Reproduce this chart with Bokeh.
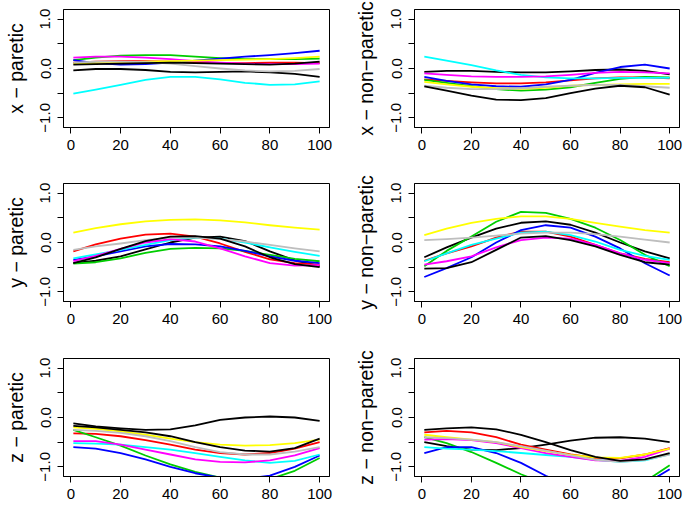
from bokeh.plotting import figure
from bokeh.layouts import column, row
from bokeh.models import Range1d, FixedTicker
from bokeh.embed import file_html
from bokeh.resources import INLINE

# ---------------- data ----------------
T = [1, 10, 20, 30, 40, 50, 60, 70, 80, 90, 100]
X_TICKS = [0, 20, 40, 60, 80, 100]
Y_TICKS = [-1.0, -0.5, 0.0, 0.5, 1.0]
Y_TICK_LABELS = ["\u22121.0", "", "0.0", "", "1.0"]

COLORS = {
    "black1": "#000000", "red": "#FF0000", "green": "#00CD00", "blue": "#0000FF",
    "cyan": "#00FFFF", "magenta": "#FF00FF", "yellow": "#FFFF00", "gray": "#BEBEBE",
    "black2": "#000000",
}

# x - paretic
xp_black1 = [-0.04, -0.01, -0.01, -0.03, -0.07, -0.08, -0.07, -0.06, -0.08, -0.11, -0.17]
xp_red = [0.12, 0.14, 0.15, 0.15, 0.14, 0.12, 0.11, 0.11, 0.12, 0.12, 0.11]
xp_green = [0.17, 0.22, 0.26, 0.27, 0.27, 0.24, 0.21, 0.19, 0.19, 0.19, 0.20]
xp_blue = [0.17, 0.11, 0.08, 0.09, 0.12, 0.16, 0.20, 0.24, 0.27, 0.31, 0.36]
xp_cyan = [-0.51, -0.43, -0.33, -0.23, -0.17, -0.17, -0.22, -0.29, -0.33, -0.32, -0.26]
xp_magenta = [0.22, 0.24, 0.24, 0.22, 0.19, 0.15, 0.12, 0.10, 0.09, 0.09, 0.10]
xp_yellow = [0.10, 0.11, 0.12, 0.14, 0.15, 0.16, 0.17, 0.18, 0.19, 0.21, 0.24]
xp_gray = [0.12, 0.14, 0.14, 0.13, 0.10, 0.05, 0.00, -0.04, -0.06, -0.05, -0.01]
xp_black2 = [0.08, 0.09, 0.10, 0.11, 0.12, 0.11, 0.10, 0.09, 0.08, 0.10, 0.14]

# x - non-paretic
xn_black1 = [-0.07, -0.05, -0.05, -0.07, -0.08, -0.08, -0.06, -0.03, -0.02, -0.05, -0.12]
xn_red = [-0.22, -0.25, -0.28, -0.30, -0.30, -0.28, -0.24, -0.20, -0.18, -0.18, -0.20]
xn_green = [-0.23, -0.29, -0.36, -0.42, -0.45, -0.43, -0.38, -0.29, -0.21, -0.17, -0.18]
xn_blue = [-0.17, -0.25, -0.32, -0.36, -0.37, -0.32, -0.23, -0.09, 0.03, 0.08, 0.00]
xn_cyan = [0.24, 0.16, 0.07, -0.04, -0.13, -0.18, -0.20, -0.20, -0.19, -0.19, -0.19]
xn_magenta = [-0.10, -0.13, -0.16, -0.17, -0.17, -0.16, -0.13, -0.09, -0.07, -0.08, -0.10]
xn_yellow = [-0.27, -0.32, -0.37, -0.40, -0.41, -0.39, -0.35, -0.33, -0.32, -0.31, -0.31]
xn_gray = [-0.35, -0.39, -0.42, -0.42, -0.40, -0.37, -0.35, -0.33, -0.33, -0.36, -0.39]
xn_black2 = [-0.36, -0.45, -0.55, -0.63, -0.64, -0.60, -0.50, -0.41, -0.35, -0.38, -0.53]

# y - paretic
yp_black1 = [-0.42, -0.37, -0.28, -0.14, 0.00, 0.10, 0.12, 0.03, -0.18, -0.36, -0.48]
yp_red = [-0.18, -0.04, 0.08, 0.16, 0.18, 0.12, -0.02, -0.19, -0.34, -0.42, -0.45]
yp_green = [-0.43, -0.40, -0.32, -0.21, -0.13, -0.11, -0.12, -0.17, -0.25, -0.33, -0.38]
yp_blue = [-0.35, -0.28, -0.18, -0.08, -0.03, -0.04, -0.08, -0.17, -0.28, -0.37, -0.42]
yp_cyan = [-0.32, -0.24, -0.15, -0.05, 0.05, 0.10, 0.08, 0.00, -0.10, -0.19, -0.27]
yp_magenta = [-0.38, -0.27, -0.13, 0.00, 0.07, 0.02, -0.12, -0.28, -0.42, -0.47, -0.46]
yp_yellow = [0.20, 0.29, 0.37, 0.43, 0.46, 0.47, 0.45, 0.41, 0.35, 0.30, 0.26]
yp_gray = [-0.15, -0.08, -0.02, 0.05, 0.10, 0.10, 0.07, 0.02, -0.05, -0.12, -0.18]
yp_black2 = [-0.42, -0.30, -0.13, 0.03, 0.12, 0.13, 0.08, -0.08, -0.30, -0.44, -0.50]

# y - non-paretic
yn_black1 = [-0.30, -0.10, 0.10, 0.28, 0.40, 0.43, 0.36, 0.20, 0.00, -0.18, -0.32]
yn_red = [-0.37, -0.22, -0.08, 0.10, 0.22, 0.22, 0.12, -0.05, -0.22, -0.33, -0.40]
yn_green = [-0.48, -0.17, 0.12, 0.42, 0.62, 0.60, 0.48, 0.30, 0.05, -0.25, -0.48]
yn_blue = [-0.70, -0.52, -0.30, 0.00, 0.25, 0.35, 0.30, 0.12, -0.12, -0.42, -0.67]
yn_cyan = [-0.38, -0.22, -0.05, 0.08, 0.20, 0.22, 0.15, 0.02, -0.15, -0.27, -0.35]
yn_magenta = [-0.45, -0.38, -0.28, -0.10, 0.05, 0.10, 0.08, -0.05, -0.22, -0.35, -0.42]
yn_yellow = [0.15, 0.28, 0.40, 0.48, 0.53, 0.53, 0.48, 0.40, 0.32, 0.25, 0.20]
yn_gray = [0.05, 0.07, 0.10, 0.14, 0.18, 0.20, 0.20, 0.17, 0.12, 0.06, 0.00]
yn_black2 = [-0.53, -0.52, -0.40, -0.15, 0.10, 0.13, 0.05, -0.08, -0.25, -0.40, -0.45]

# z - paretic
zp_black1 = [-0.12, -0.18, -0.22, -0.25, -0.24, -0.16, -0.05, 0.00, 0.02, 0.00, -0.07]
zp_red = [-0.32, -0.33, -0.38, -0.46, -0.55, -0.65, -0.72, -0.75, -0.72, -0.63, -0.50]
zp_green = [-0.25, -0.40, -0.57, -0.77, -0.95, -1.10, -1.22, -1.28, -1.25, -1.08, -0.82]
zp_blue = [-0.60, -0.63, -0.72, -0.85, -1.00, -1.13, -1.22, -1.24, -1.18, -1.00, -0.77]
zp_cyan = [-0.52, -0.53, -0.55, -0.60, -0.65, -0.72, -0.80, -0.87, -0.92, -0.88, -0.75]
zp_magenta = [-0.48, -0.48, -0.55, -0.65, -0.75, -0.85, -0.90, -0.91, -0.87, -0.77, -0.62]
zp_yellow = [-0.20, -0.23, -0.28, -0.35, -0.43, -0.50, -0.55, -0.57, -0.56, -0.52, -0.45]
zp_gray = [-0.25, -0.27, -0.31, -0.38, -0.48, -0.60, -0.70, -0.75, -0.75, -0.69, -0.60]
zp_black2 = [-0.17, -0.20, -0.25, -0.30, -0.38, -0.50, -0.60, -0.67, -0.69, -0.62, -0.43]

# z - non-paretic
zn_black1 = [-0.50, -0.58, -0.65, -0.66, -0.62, -0.55, -0.47, -0.41, -0.40, -0.43, -0.50]
zn_red = [-0.30, -0.27, -0.30, -0.40, -0.55, -0.65, -0.75, -0.82, -0.83, -0.75, -0.62]
zn_green = [-0.40, -0.52, -0.70, -0.92, -1.15, -1.35, -1.50, -1.55, -1.50, -1.30, -0.97]
zn_blue = [-0.72, -0.60, -0.60, -0.72, -0.92, -1.18, -1.40, -1.52, -1.52, -1.35, -1.05]
zn_cyan = [-0.60, -0.63, -0.65, -0.68, -0.72, -0.76, -0.80, -0.86, -0.90, -0.87, -0.75]
zn_magenta = [-0.45, -0.44, -0.46, -0.52, -0.62, -0.72, -0.80, -0.87, -0.88, -0.80, -0.63]
zn_yellow = [-0.35, -0.40, -0.45, -0.50, -0.60, -0.68, -0.76, -0.81, -0.82, -0.75, -0.63]
zn_gray = [-0.40, -0.42, -0.45, -0.50, -0.58, -0.67, -0.77, -0.86, -0.90, -0.86, -0.75]
zn_black2 = [-0.25, -0.22, -0.20, -0.24, -0.35, -0.50, -0.66, -0.80, -0.88, -0.85, -0.72]

PANELS = [
    ("x \u2212 paretic", [xp_black1, xp_red, xp_green, xp_blue, xp_cyan, xp_magenta, xp_yellow, xp_gray, xp_black2]),
    ("x \u2212 non\u2212paretic", [xn_black1, xn_red, xn_green, xn_blue, xn_cyan, xn_magenta, xn_yellow, xn_gray, xn_black2]),
    ("y \u2212 paretic", [yp_black1, yp_red, yp_green, yp_blue, yp_cyan, yp_magenta, yp_yellow, yp_gray, yp_black2]),
    ("y \u2212 non\u2212paretic", [yn_black1, yn_red, yn_green, yn_blue, yn_cyan, yn_magenta, yn_yellow, yn_gray, yn_black2]),
    ("z \u2212 paretic", [zp_black1, zp_red, zp_green, zp_blue, zp_cyan, zp_magenta, zp_yellow, zp_gray, zp_black2]),
    ("z \u2212 non\u2212paretic", [zn_black1, zn_red, zn_green, zn_blue, zn_cyan, zn_magenta, zn_yellow, zn_gray, zn_black2]),
]
SERIES_ORDER = ["black1", "red", "green", "blue", "cyan", "magenta", "yellow", "gray", "black2"]

FONT = "Liberation Sans"
TICK_FS = "15px"
LABEL_FS = "19.5px"


def make_panel(label, series, col, rowi):
    # row geometry: (height, top border, bottom border)
    height, bt, bb = [(175, 9, 48), (175, 8, 49), (156, 8, 30)][rowi]
    if col == 0:
        width, bl, br, als = 343, 63, 14, 11
    else:
        width, bl, br, als = 341, 71, 5, 12
    p = figure(width=width, height=height,
               x_range=Range1d(-2.96, 103.96), y_range=Range1d(-1.196, 1.196),
               output_backend="svg", toolbar_location=None,
               min_border_left=bl, min_border_right=br,
               min_border_top=bt, min_border_bottom=bb)
    p.xgrid.visible = False
    p.ygrid.visible = False
    p.outline_line_color = "black"
    p.outline_line_width = 1
    p.outline_line_alpha = 1
    p.background_fill_color = "white"
    p.border_fill_color = "white"

    for name, ys in zip(SERIES_ORDER, series):
        p.line(T, ys, line_color=COLORS[name], line_width=1.8, line_join="round")

    xa = p.xaxis[0]
    xa.ticker = FixedTicker(ticks=X_TICKS)
    xa.minor_tick_line_color = None
    xa.major_tick_out = 6
    xa.major_tick_in = 0
    xa.major_label_standoff = 6
    xa.major_label_text_font = FONT
    xa.major_label_text_font_size = TICK_FS
    xa.major_label_text_color = "black"
    xa.axis_line_color = "black"
    xa.major_tick_line_color = "black"

    ya = p.yaxis[0]
    ya.ticker = FixedTicker(ticks=Y_TICKS)
    ya.major_label_overrides = {t: s for t, s in zip(Y_TICKS, Y_TICK_LABELS)}
    ya.major_label_orientation = "vertical"
    ya.minor_tick_line_color = None
    ya.major_tick_out = 6
    ya.major_tick_in = 0
    ya.major_label_standoff = 7
    ya.major_label_text_font = FONT
    ya.major_label_text_font_size = TICK_FS
    ya.major_label_text_color = "black"
    ya.axis_line_color = "black"
    ya.major_tick_line_color = "black"
    ya.axis_label = label
    ya.axis_label_text_font = FONT
    ya.axis_label_text_font_size = LABEL_FS
    ya.axis_label_text_font_style = "normal"
    ya.axis_label_text_color = "black"
    ya.axis_label_standoff = als
    return p


plots = [make_panel(lbl, s, i % 2, i // 2) for i, (lbl, s) in enumerate(PANELS)]
layout = column(row(plots[0], plots[1]), row(plots[2], plots[3]), row(plots[4], plots[5]))

open("out.html", "w").write(file_html(layout, INLINE))
